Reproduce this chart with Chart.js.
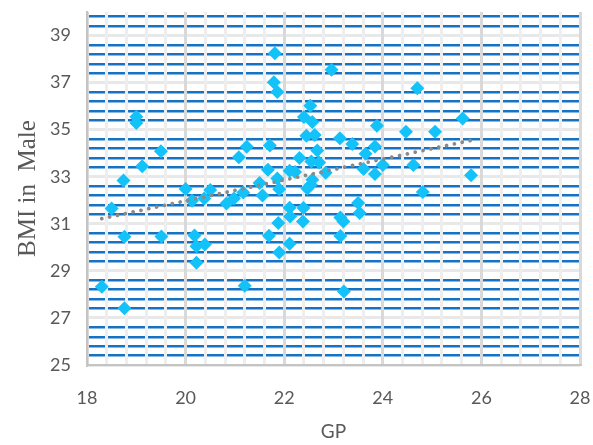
<!DOCTYPE html>
<html>
<head>
<meta charset="utf-8">
<script src="https://cdn.jsdelivr.net/npm/chart.js@4"></script>
<style>
  html, body { margin: 0; padding: 0; background: #fff; }
  #wrap { width: 593px; height: 445px; }
</style>
</head>
<body>
<div id="wrap"><canvas id="chart"></canvas></div>
<script>
// GP (x) and BMI in Male (y)
const gpValues = [
  18.30, 18.76, 18.50, 18.74, 18.76, 19.00, 19.00, 19.12, 19.50, 19.51,
  20.00, 20.13, 20.18, 20.22, 20.22, 20.39, 20.38, 20.50, 20.83, 20.98,
  21.08, 21.17, 21.24, 21.20, 21.50, 21.56, 21.67, 21.71, 21.69, 21.81,
  21.79, 21.86, 21.86, 21.90, 21.88, 21.90, 22.11, 22.22, 22.11, 22.12,
  22.11, 22.31, 22.39, 22.38, 22.40, 22.45, 22.53, 22.57, 22.62, 22.67,
  22.55, 22.71, 22.57, 22.54, 22.47, 22.84, 22.96, 23.13, 23.14, 23.20,
  23.14, 23.21, 23.38, 23.50, 23.53, 23.61, 23.65, 23.84, 23.84, 23.88,
  24.00, 24.47, 24.62, 24.70, 24.81, 25.06, 25.62, 25.79
];
const bmiValues = [
  28.33, 27.41, 31.65, 32.84, 30.45, 35.55, 35.28, 33.45, 34.08, 30.46,
  32.48, 31.98, 30.50, 30.05, 29.35, 30.12, 32.07, 32.44, 31.86, 32.08,
  33.83, 32.33, 34.27, 28.37, 32.73, 32.20, 33.30, 34.33, 30.49, 38.25,
  37.01, 36.60, 32.92, 32.47, 31.03, 29.78, 33.25, 33.20, 31.68, 31.31,
  30.15, 33.80, 31.67, 31.10, 35.54, 34.74, 36.02, 35.33, 34.77, 34.12,
  33.65, 33.61, 32.87, 32.66, 32.50, 33.17, 37.55, 34.64, 31.27, 31.10,
  30.48, 28.12, 34.39, 31.88, 31.46, 33.33, 33.98, 34.29, 33.12, 35.17,
  33.50, 34.91, 33.50, 36.76, 32.35, 34.91, 35.47, 33.06
];

// axis labels (major ticks) and minor grid step
const xLabels = [18, 20, 22, 24, 26, 28];
const yLabels = [25, 27, 29, 31, 33, 35, 37, 39];
const minorStep = 0.4;

const points = gpValues.map((x, i) => ({ x: x, y: bmiValues[i] }));

// linear trendline (least squares) over the data range
const n = points.length;
const mx = gpValues.reduce((a, b) => a + b, 0) / n;
const my = bmiValues.reduce((a, b) => a + b, 0) / n;
let sxy = 0, sxx = 0;
points.forEach(p => { sxy += (p.x - mx) * (p.y - my); sxx += (p.x - mx) * (p.x - mx); });
const slope = sxy / sxx;
const icpt = my - slope * mx;
const xMin = Math.min(...gpValues), xMax = Math.max(...gpValues);
const trend = [
  { x: xMin, y: icpt + slope * xMin },
  { x: xMax, y: icpt + slope * xMax }
];

function minorTicks(min, max) {
  const out = [];
  for (let v = min; v <= max + 1e-6; v += minorStep) out.push({ value: Math.round(v * 10) / 10 });
  return out;
}

const grey = '#595959';

new Chart(document.getElementById('chart'), {
  type: 'scatter',
  data: {
    datasets: [
      {
        type: 'line',
        data: trend,
        order: 0,
        borderColor: '#8a8a8a',
        borderWidth: 3.8,
        borderDash: [0.01, 8],
        borderCapStyle: 'round',
        pointRadius: 0,
        fill: false
      },
      {
        data: points,
        order: 1,
        pointStyle: 'rectRot',
        pointRadius: 7,
        pointBackgroundColor: '#14c2fa',
        pointBorderColor: '#14c2fa',
        pointBorderWidth: 0
      }
    ]
  },
  options: {
    responsive: true,
    maintainAspectRatio: false,
    animation: false,
    layout: { padding: { top: 12, right: 13, left: 0, bottom: 0 } },
    plugins: { legend: { display: false }, tooltip: { enabled: false } },
    scales: {
      x: {
        type: 'linear',
        min: 18,
        max: 28,
        afterBuildTicks: s => { s.ticks = minorTicks(18, 28); },
        afterFit: s => { s.height = 80; s.paddingLeft = 0; s.paddingRight = 0; },
        grid: {
          z: -1,
          drawTicks: false,
          lineWidth: 3,
          color: c => xLabels.includes(c.tick.value) ? '#d9d9d9' : '#eeeeee'
        },
        border: { color: '#c4c4c4', width: 2 },
        ticks: {
          autoSkip: false,
          maxRotation: 0,
          padding: 22,
          color: grey,
          font: { family: 'Lato', size: 18 },
          callback: v => xLabels.includes(v) ? String(v) : ''
        },
        title: {
          display: true,
          text: 'GP',
          color: grey,
          font: { family: 'Lato', size: 19 },
          padding: { top: 0, bottom: 2 }
        }
      },
      y: {
        type: 'linear',
        min: 25,
        max: 40,
        afterBuildTicks: s => { s.ticks = minorTicks(25, 39.8); },
        afterFit: s => { s.width = 87; s.paddingTop = 0; s.paddingBottom = 0; },
        grid: {
          z: -2,
          drawTicks: false,
          lineWidth: c => yLabels.includes(c.tick.value) ? 3 : 2.5,
          color: c => yLabels.includes(c.tick.value) ? '#e8e8e8' : '#1673c4'
        },
        border: { color: '#c4c4c4', width: 2 },
        ticks: {
          autoSkip: false,
          padding: 16,
          color: grey,
          font: { family: 'Lato', size: 18 },
          callback: v => yLabels.includes(v) ? String(v) : ''
        },
        title: {
          display: true,
          text: 'BMI in  Male',
          color: grey,
          font: { family: 'Liberation Serif', size: 25 },
          padding: { top: 13, bottom: 0 }
        }
      }
    }
  }
});
</script>
</body>
</html>
